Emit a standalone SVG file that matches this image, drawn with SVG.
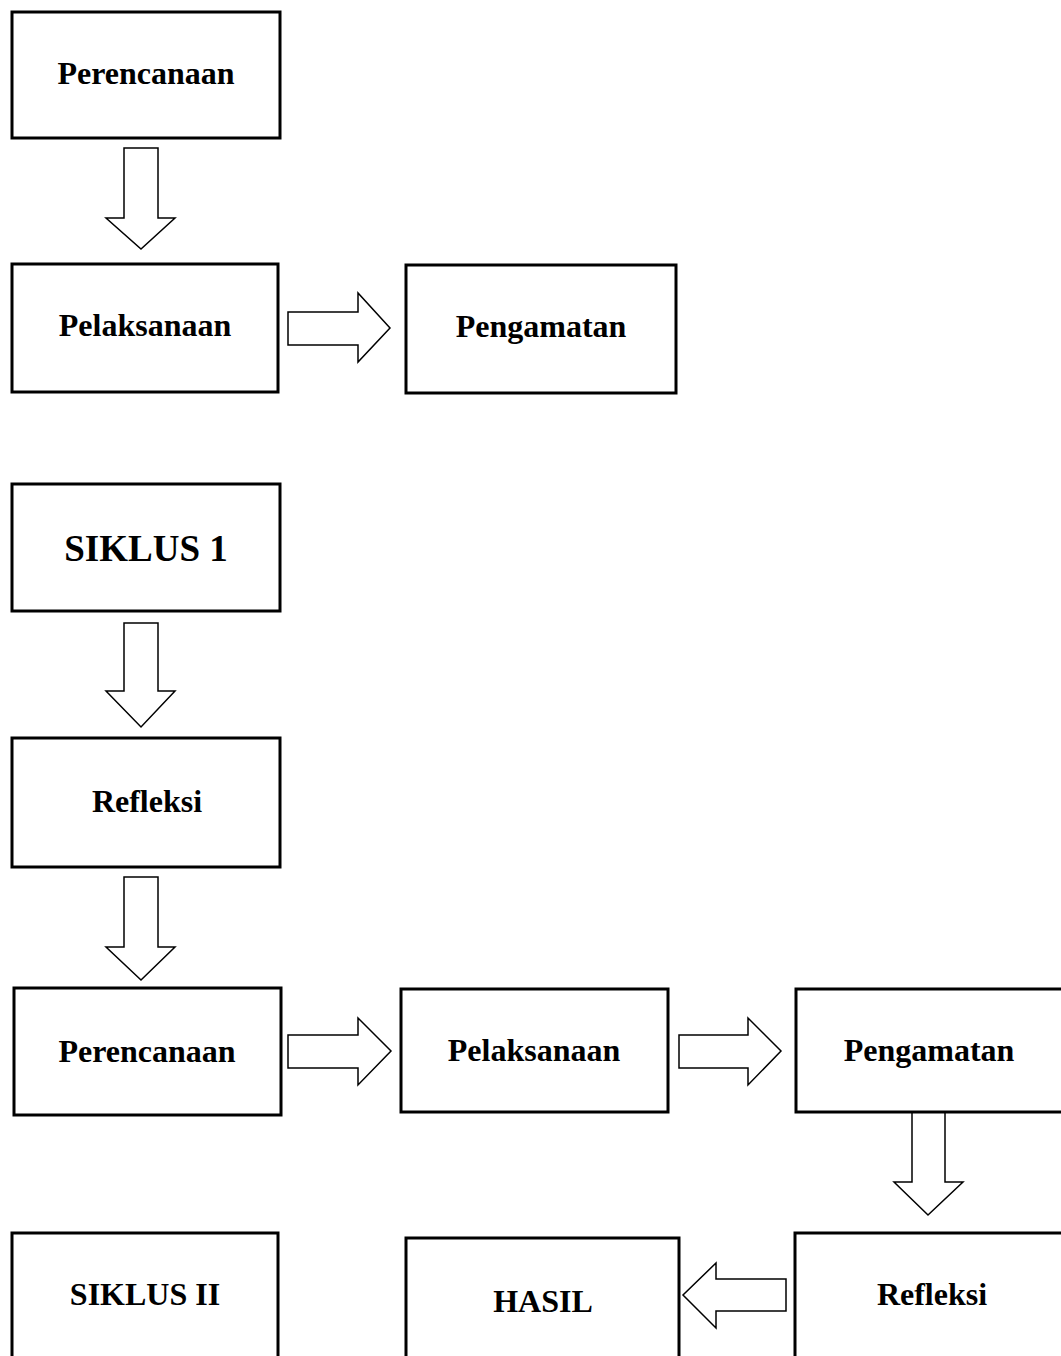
<svg xmlns="http://www.w3.org/2000/svg" width="1061" height="1356" viewBox="0 0 1061 1356">
<style>
.box{fill:#fff;stroke:#000;stroke-width:3}
.arr{fill:#fff;stroke:#000;stroke-width:1.5;stroke-linejoin:miter}
.t{font-family:"Liberation Serif","Times New Roman",serif;font-weight:bold;font-size:32px;fill:#000;text-anchor:middle}
.big{font-size:37px}
</style>
<rect width="1061" height="1356" fill="#fff"/>
<g id="connectors">
<polygon class="arr" points="124,148 158,148 158,218 175,218 141,249 106,218 124,218"/>
<polygon class="arr" points="288,312 358,312 358,293 390,328 358,362 358,345 288,345"/>
<polygon class="arr" points="124,623 158,623 158,691 175,691 141,727 106,691 124,691"/>
<polygon class="arr" points="124,877 158,877 158,947 175,947 141,980 106,947 124,947"/>
<polygon class="arr" points="288,1035 358,1035 358,1018 391,1051 358,1085 358,1068 288,1068"/>
<polygon class="arr" points="679,1035 748,1035 748,1018 781,1051 748,1085 748,1068 679,1068"/>
<polygon class="arr" points="912,1112 945,1112 945,1182 963,1182 928,1215 894,1182 912,1182"/>
<polygon class="arr" points="786,1279 786,1311 716,1311 716,1328 683,1295 716,1263 716,1279"/>
</g>
<g id="n1"><rect class="box" x="12" y="12" width="268" height="126"/><text class="t" x="146" y="84">Perencanaan</text></g>
<g id="n2"><rect class="box" x="12" y="264" width="266" height="128"/><text class="t" x="145" y="336">Pelaksanaan</text></g>
<g id="n3"><rect class="box" x="406" y="265" width="270" height="128"/><text class="t" x="541" y="337">Pengamatan</text></g>
<g id="n4"><rect class="box" x="12" y="484" width="268" height="127"/><text class="t big" x="146" y="561">SIKLUS 1</text></g>
<g id="n5"><rect class="box" x="12" y="738" width="268" height="129"/><text class="t" x="147" y="812">Refleksi</text></g>
<g id="n6"><rect class="box" x="14" y="988" width="267" height="127"/><text class="t" x="147" y="1062">Perencanaan</text></g>
<g id="n7"><rect class="box" x="401" y="989" width="267" height="123"/><text class="t" x="534" y="1061">Pelaksanaan</text></g>
<g id="n8"><rect class="box" x="796" y="989" width="268" height="123"/><text class="t" x="929" y="1061">Pengamatan</text></g>
<g id="n9"><rect class="box" x="12" y="1233" width="266" height="140"/><text class="t" x="145" y="1305">SIKLUS II</text></g>
<g id="n10"><rect class="box" x="406" y="1238" width="273" height="140"/><text class="t" x="543" y="1312">HASIL</text></g>
<g id="n11"><rect class="box" x="795" y="1233" width="268" height="140"/><text class="t" x="932" y="1305">Refleksi</text></g>
</svg>
